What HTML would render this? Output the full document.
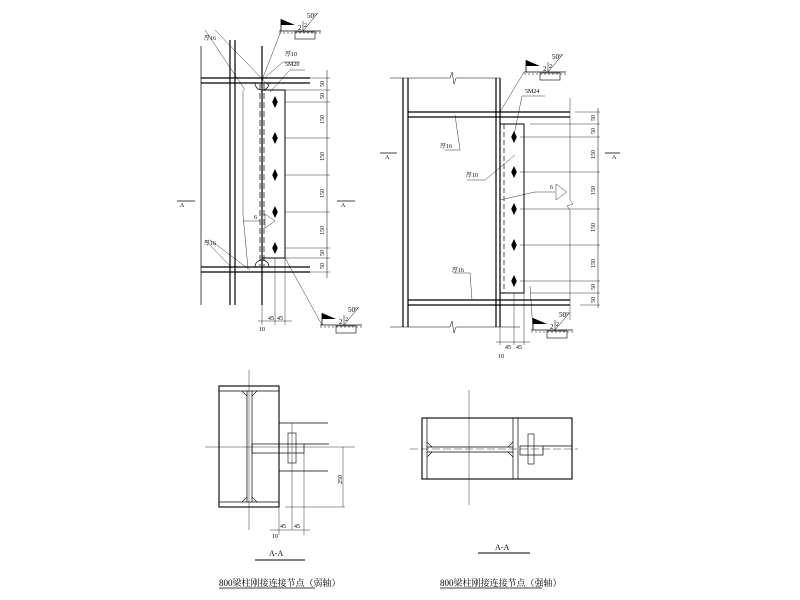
<!DOCTYPE html>
<html><head><meta charset="utf-8"><style>
body{margin:0;background:#fff}
svg{display:block}
text{font-family:"Liberation Serif","Noto Serif CJK SC",serif;fill:#000}
</style></head><body>
<svg width="800" height="600" viewBox="0 0 800 600" xmlns="http://www.w3.org/2000/svg">
<defs>
<g id="weld">
<polygon points="0,-12 14,-6 0,-6" fill="#000"/>
<line x1="0" y1="-12" x2="0" y2="0" stroke="#000" stroke-width="0.8"/>
<line x1="-2" y1="0" x2="40" y2="0" stroke="#000" stroke-width="0.7"/>
<line x1="-2" y1="2" x2="40" y2="2" stroke="#000" stroke-width="0.5" stroke-dasharray="2,2"/>
<rect x="14" y="1" width="20" height="7" fill="none" stroke="#000" stroke-width="0.6"/>
<line x1="22" y1="0" x2="37" y2="-18" stroke="#000" stroke-width="0.5"/>
<line x1="22" y1="0" x2="22" y2="-10" stroke="#000" stroke-width="0.5"/>
<text x="17" y="-1" font-size="7">2</text>
<text x="23" y="-4" font-size="6">2</text>
<text x="26" y="-13" font-size="7">50°</text>
</g>
<g id="bolt"><polygon points="0,-6 2.8,0 0,6 -2.8,0" fill="#000"/></g>
</defs>
<g stroke="#000" fill="none" stroke-width="0.7">
<!-- LEFT ELEVATION -->
<line x1="201" y1="46" x2="201" y2="305"/>
<line x1="230" y1="40" x2="230" y2="305" stroke-width="1.2"/>
<line x1="235" y1="40" x2="235" y2="305" stroke-width="1.2"/>
<line x1="262" y1="46" x2="262" y2="305" stroke-width="1.2"/>
<line x1="201" y1="78" x2="310" y2="78" stroke-width="1.2"/>
<line x1="201" y1="83" x2="310" y2="83" stroke-width="1.2"/>
<line x1="201" y1="267" x2="310" y2="267" stroke-width="1.2"/>
<line x1="201" y1="272" x2="310" y2="272" stroke-width="1.2"/>
<polyline points="262,90 285,90 285,258 262,258" stroke-width="1"/>
<line x1="260" y1="84" x2="260" y2="266" stroke-dasharray="6,3"/>
<line x1="264" y1="84" x2="264" y2="266" stroke-dasharray="6,3"/>
<path d="M255,83 a7,7 0 0 0 14,0 M255,267 a7,7 0 0 1 14,0"/>
<line x1="327" y1="70" x2="327" y2="278" stroke-width="0.5"/>
<g stroke-width="0.4">
<line x1="285" y1="90" x2="330" y2="90"/><line x1="285" y1="102" x2="330" y2="102"/>
<line x1="285" y1="138" x2="330" y2="138"/><line x1="285" y1="175" x2="330" y2="175"/>
<line x1="285" y1="212" x2="330" y2="212"/><line x1="285" y1="248" x2="330" y2="248"/>
<line x1="285" y1="258" x2="330" y2="258"/><line x1="310" y1="78" x2="330" y2="78"/><line x1="310" y1="272" x2="330" y2="272"/>
<line x1="262" y1="305" x2="262" y2="325"/><line x1="275" y1="258" x2="275" y2="325"/><line x1="285" y1="258" x2="285" y2="325"/>
<line x1="258" y1="321" x2="292" y2="321"/>
<line x1="205" y1="30" x2="245" y2="90"/><line x1="215" y1="30" x2="268" y2="85"/>
<line x1="205" y1="240" x2="232" y2="268"/><line x1="210" y1="240" x2="250" y2="270"/>
<line x1="283" y1="62" x2="262" y2="80"/><line x1="283" y1="62" x2="300" y2="62"/>
<line x1="281" y1="31" x2="262" y2="80"/>
<line x1="290" y1="70" x2="305" y2="70"/><line x1="290" y1="70" x2="270" y2="92"/>
<line x1="243" y1="90" x2="243" y2="215"/><line x1="243" y1="215" x2="248" y2="268"/>
<line x1="243" y1="221" x2="260" y2="221"/>
<polygon points="265,214 275,221 265,228"/>
<line x1="285" y1="258" x2="322" y2="325"/>
<line x1="177" y1="201" x2="195" y2="201" stroke-width="0.8"/><line x1="337" y1="201" x2="355" y2="201" stroke-width="0.8"/>
</g>
<!-- RIGHT ELEVATION -->
<line x1="403" y1="78" x2="403" y2="327" stroke-width="1.2"/>
<line x1="408" y1="78" x2="408" y2="327" stroke-width="1.2"/>
<line x1="496" y1="78" x2="496" y2="327" stroke-width="1.2"/>
<line x1="500" y1="78" x2="500" y2="327" stroke-width="1.2"/>
<path d="M390,78 L450,78 L452,72 L454,84 L456,78 L500,78" stroke-width="0.5"/>
<path d="M390,327 L450,327 L452,321 L454,333 L456,327 L520,327" stroke-width="0.5"/>
<line x1="408" y1="112" x2="570" y2="112" stroke-width="1.2"/>
<line x1="408" y1="117" x2="570" y2="117" stroke-width="1.2"/>
<line x1="408" y1="300" x2="570" y2="300" stroke-width="1.2"/>
<line x1="408" y1="305" x2="570" y2="305" stroke-width="1.2"/>
<polyline points="500,124 524,124 524,293 500,293" stroke-width="1"/>
<line x1="504" y1="124" x2="504" y2="293" stroke-dasharray="5,3"/>
<line x1="598" y1="108" x2="598" y2="308" stroke-width="0.5"/>
<g stroke-width="0.4">
<line x1="530" y1="124" x2="600" y2="124"/><line x1="520" y1="137" x2="600" y2="137"/>
<line x1="520" y1="172" x2="600" y2="172"/><line x1="520" y1="209" x2="600" y2="209"/>
<line x1="520" y1="245" x2="600" y2="245"/><line x1="520" y1="281" x2="600" y2="281"/>
<line x1="530" y1="293" x2="600" y2="293"/><line x1="575" y1="112" x2="600" y2="112"/><line x1="580" y1="305" x2="600" y2="305"/>
<line x1="570" y1="98" x2="570" y2="200"/><path d="M570,200 l3,4 l-6,2 l3,4 L570,320"/>
<line x1="500" y1="327" x2="500" y2="345"/><line x1="514" y1="293" x2="514" y2="345"/><line x1="524" y1="293" x2="524" y2="345"/>
<line x1="496" y1="342" x2="530" y2="342"/>
<line x1="524" y1="72" x2="500" y2="112"/>
<line x1="522" y1="96" x2="545" y2="96"/><line x1="522" y1="96" x2="514" y2="135"/>
<line x1="445" y1="150" x2="460" y2="150"/><line x1="460" y1="150" x2="455" y2="115"/>
<line x1="467" y1="180" x2="485" y2="180"/><line x1="485" y1="180" x2="515" y2="155"/>
<line x1="500" y1="200" x2="535" y2="192"/><line x1="535" y1="192" x2="555" y2="192"/>
<polygon points="556,184 567,192 556,200"/>
<line x1="453" y1="273" x2="470" y2="273"/><line x1="470" y1="273" x2="472" y2="300"/>
<line x1="533" y1="330" x2="530" y2="286"/>
<line x1="380" y1="153" x2="397" y2="153" stroke-width="0.8"/><line x1="605" y1="153" x2="620" y2="153" stroke-width="0.8"/>
</g>
<!-- LEFT SECTION -->
<rect x="219" y="386" width="60" height="121" stroke-width="1.1"/>
<line x1="219" y1="391" x2="279" y2="391"/><line x1="219" y1="502" x2="279" y2="502"/>
<line x1="247" y1="391" x2="247" y2="502"/><line x1="252" y1="391" x2="252" y2="502"/>
<path d="M242,391 L247,396 M257,391 L252,396 M242,502 L247,497 M257,502 L252,497" stroke-width="0.6"/>
<line x1="279" y1="423" x2="328" y2="423"/><line x1="279" y1="471" x2="328" y2="471"/>
<rect x="252" y="444" width="52" height="9"/>
<line x1="304" y1="444" x2="329" y2="444"/>
<rect x="288" y="433" width="8" height="30" stroke-width="0.6"/>
<line x1="292" y1="423" x2="292" y2="530" stroke-width="0.4"/>
<line x1="205" y1="447" x2="355" y2="447" stroke-width="0.4"/>
<line x1="249" y1="370" x2="249" y2="530" stroke-width="0.4"/>
<line x1="343" y1="447" x2="343" y2="507" stroke-width="0.4"/>
<line x1="285" y1="507" x2="345" y2="507" stroke-width="0.4"/>
<line x1="279" y1="507" x2="279" y2="535" stroke-width="0.4"/><line x1="304" y1="453" x2="304" y2="535" stroke-width="0.4"/>
<line x1="270" y1="530" x2="310" y2="530" stroke-width="0.4"/>
<line x1="255" y1="560" x2="305" y2="560" stroke-width="1"/>
<!-- RIGHT SECTION -->
<rect x="422" y="418" width="150" height="61" stroke-width="1.1"/>
<line x1="427" y1="418" x2="427" y2="479"/><line x1="513" y1="418" x2="513" y2="479"/><line x1="518" y1="418" x2="518" y2="479"/>
<line x1="427" y1="447" x2="513" y2="447"/><line x1="427" y1="452" x2="513" y2="452"/>
<path d="M427,442 L432,447 M427,457 L432,452 M513,442 L508,447 M513,457 L508,452" stroke-width="0.6"/>
<rect x="520" y="446" width="23" height="9"/>
<line x1="543" y1="446" x2="572" y2="446"/>
<rect x="528" y="434" width="6" height="30" stroke-width="0.6"/>
<line x1="410" y1="449" x2="578" y2="449" stroke-width="0.4" stroke-dasharray="8,3"/>
<line x1="469" y1="390" x2="469" y2="505" stroke-width="0.4"/>
<line x1="478" y1="553" x2="530" y2="553" stroke-width="1"/>
<line x1="219" y1="588" x2="315" y2="588" stroke-width="0.8"/>
<line x1="440" y1="588" x2="542" y2="588" stroke-width="0.8"/>
</g>
<g fill="#000">
<use href="#bolt" x="275" y="102"/><use href="#bolt" x="275" y="138"/><use href="#bolt" x="275" y="175"/><use href="#bolt" x="275" y="212"/><use href="#bolt" x="275" y="248"/>
<use href="#bolt" x="514" y="137"/><use href="#bolt" x="514" y="172"/><use href="#bolt" x="514" y="209"/><use href="#bolt" x="514" y="245"/><use href="#bolt" x="514" y="281"/>
</g>
<use href="#weld" x="281" y="31"/>
<use href="#weld" x="322" y="325"/>
<use href="#weld" x="526" y="72"/>
<use href="#weld" x="533" y="330"/>
<g font-size="6">
<text x="204" y="40">厚16</text><text x="285" y="56">厚10</text><text x="285" y="66">5M20</text>
<text x="204" y="245">厚16</text><text x="254" y="219">6</text>
<text x="268" y="320">45</text><text x="277" y="320">45</text><text x="259" y="331">10</text>
<text x="180" y="207">A</text><text x="341" y="207">A</text>
<text x="525" y="93">5M24</text><text x="440" y="148">厚16</text><text x="466" y="177">厚10</text>
<text x="452" y="272">厚16</text><text x="550" y="189">6</text>
<text x="505" y="349">45</text><text x="516" y="349">45</text><text x="498" y="358">10</text>
<text x="385" y="159">A</text><text x="612" y="159">A</text>
<text x="280" y="528">45</text><text x="294" y="528">45</text><text x="272" y="538">10</text>
</g>
<g font-size="6">
<text transform="translate(324,87) rotate(-90)">50</text><text transform="translate(324,99) rotate(-90)">50</text>
<text transform="translate(324,124) rotate(-90)">150</text><text transform="translate(324,161) rotate(-90)">150</text>
<text transform="translate(324,198) rotate(-90)">150</text><text transform="translate(324,235) rotate(-90)">150</text>
<text transform="translate(324,256) rotate(-90)">50</text><text transform="translate(324,269) rotate(-90)">50</text>
<text transform="translate(595,121) rotate(-90)">50</text><text transform="translate(595,134) rotate(-90)">50</text>
<text transform="translate(595,159) rotate(-90)">150</text><text transform="translate(595,195) rotate(-90)">150</text>
<text transform="translate(595,232) rotate(-90)">150</text><text transform="translate(595,268) rotate(-90)">150</text>
<text transform="translate(595,290) rotate(-90)">50</text><text transform="translate(595,303) rotate(-90)">50</text>
<text transform="translate(342,484) rotate(-90)">250</text>
</g>
<text x="269" y="556" font-size="8">A-A</text>
<text x="495" y="550" font-size="8">A-A</text>
<text x="219" y="586" font-size="9">800梁柱刚接连接节点（弱轴）</text>
<text x="440" y="586" font-size="9">800梁柱刚接连接节点（强轴）</text>
</svg>
</body></html>
